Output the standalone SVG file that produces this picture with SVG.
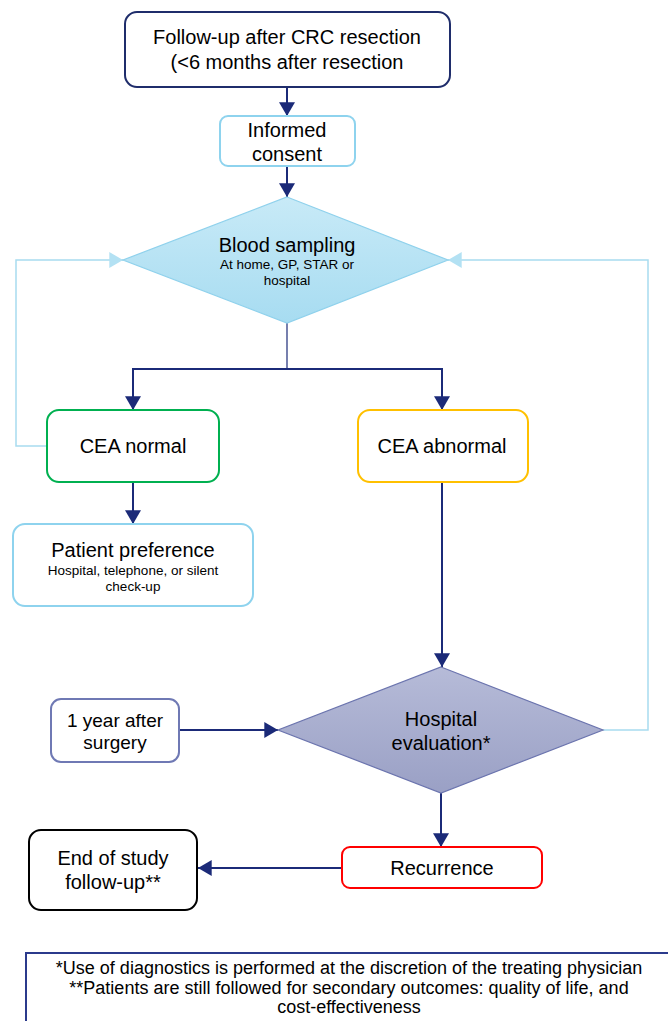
<svg xmlns="http://www.w3.org/2000/svg" width="668" height="1021" viewBox="0 0 668 1021">
<defs>
<style>
text{font-family:"Liberation Sans",Arial,sans-serif;fill:#000;text-anchor:middle}
.big{font-size:20px}
.sm{font-size:13.5px}
.foot{font-size:18px}
.box{fill:#fff;stroke-width:2}
.nav{fill:none;stroke:#1B2A78;stroke-width:2}
.loop{fill:none;stroke:#A8DCF0;stroke-width:1.5}
</style>
<linearGradient id="gBlue" x1="0" y1="0" x2="0" y2="1">
<stop offset="0" stop-color="#C8EAF7"/>
<stop offset="1" stop-color="#A7DCF1"/>
</linearGradient>
<linearGradient id="gPurple" x1="0" y1="0" x2="0" y2="1">
<stop offset="0" stop-color="#B6BBD8"/>
<stop offset="1" stop-color="#9AA0C5"/>
</linearGradient>
<marker id="ah" markerUnits="userSpaceOnUse" markerWidth="16" markerHeight="16" viewBox="0 0 12 14" refX="12" refY="7" orient="auto">
<path d="M0,0 L12,7 L0,14 Z" fill="#1B2A78"/>
</marker>
<marker id="ahl" markerUnits="userSpaceOnUse" markerWidth="16" markerHeight="16" viewBox="0 0 12 14" refX="12" refY="7" orient="auto">
<path d="M0,0 L12,7 L0,14 Z" fill="#B3E1F3"/>
</marker>
</defs>

<g id="connectors">
<line class="nav" x1="287" y1="87" x2="287" y2="116" marker-end="url(#ah)"/>
<line class="nav" x1="287" y1="166" x2="287" y2="197" marker-end="url(#ah)"/>
<line x1="287" y1="323" x2="287" y2="369" stroke="#1B2A78" stroke-width="1.2"/>
<polyline class="nav" points="133,410 133,369 442,369 442,410" stroke-linejoin="miter" marker-end="url(#ah)"/>
<line class="nav" x1="133" y1="369" x2="133" y2="410" marker-end="url(#ah)"/>
<polyline class="loop" points="47,446 16,446 16,260 123,260" marker-end="url(#ahl)"/>
<line class="nav" x1="133" y1="482" x2="133" y2="524" marker-end="url(#ah)"/>
<line class="nav" x1="442" y1="482" x2="442" y2="667" marker-end="url(#ah)"/>
<line class="nav" x1="179" y1="730" x2="278" y2="730" marker-end="url(#ah)"/>
<polyline class="loop" points="603,730 648,730 648,260 448,260" marker-end="url(#ahl)"/>
<line class="nav" x1="441" y1="793" x2="441" y2="847" marker-end="url(#ah)"/>
<line class="nav" x1="342" y1="868" x2="198" y2="868" marker-end="url(#ah)"/>
</g>

<g id="n-followup">
<rect class="box" x="125" y="12" width="325" height="75" rx="12" stroke="#1F2D6B"/>
<text class="big" x="287" y="44">Follow-up after CRC resection</text>
<text class="big" x="287" y="69">(&lt;6 months after resection</text>
</g>

<g id="n-consent">
<rect class="box" x="220" y="116" width="135" height="50" rx="8" stroke="#8ED3EE"/>
<text class="big" x="287" y="137">Informed</text>
<text class="big" x="287" y="161">consent</text>
</g>

<g id="n-blood">
<polygon points="287,197 448,260 287,323 123,260" fill="url(#gBlue)" stroke="#8FD1EC" stroke-width="1.2"/>
<text class="big" x="287" y="252">Blood sampling</text>
<text class="sm" x="287" y="269">At home, GP, STAR or</text>
<text class="sm" x="287" y="285">hospital</text>
</g>

<g id="n-normal">
<rect class="box" x="47" y="410" width="172" height="72" rx="12" stroke="#00B050"/>
<text class="big" x="133" y="453">CEA normal</text>
</g>

<g id="n-abnormal">
<rect class="box" x="358" y="410" width="170" height="72" rx="12" stroke="#FFC000"/>
<text class="big" x="442" y="453">CEA abnormal</text>
</g>

<g id="n-preference">
<rect class="box" x="13" y="524" width="240" height="82" rx="12" stroke="#8ED3EE"/>
<text class="big" x="133" y="557">Patient preference</text>
<text class="sm" x="133" y="575">Hospital, telephone, or silent</text>
<text class="sm" x="133" y="591">check-up</text>
</g>

<g id="n-year">
<rect class="box" x="51" y="699" width="128" height="63" rx="10" stroke="#6F79B4"/>
<text class="big" x="115" y="727" style="font-size:19px">1 year after</text>
<text class="big" x="115" y="749" style="font-size:19px">surgery</text>
</g>

<g id="n-hospital">
<polygon points="441,667 603,730 441,793 278,730" fill="url(#gPurple)" stroke="#6B74AE" stroke-width="1.2"/>
<text class="big" x="441" y="726">Hospital</text>
<text class="big" x="441" y="750">evaluation*</text>
</g>

<g id="n-recurrence">
<rect class="box" x="342" y="847" width="200" height="41" rx="8" stroke="#FF0000"/>
<text class="big" x="442" y="875">Recurrence</text>
</g>

<g id="n-end">
<rect class="box" x="29" y="830" width="168" height="80" rx="12" stroke="#000"/>
<text class="big" x="113" y="865">End of study</text>
<text class="big" x="113" y="889">follow-up**</text>
</g>

<g id="n-footnote">
<rect class="box" x="26" y="953" width="670" height="90" stroke="#2B3A8C"/>
<text class="foot" x="349" y="974">*Use of diagnostics is performed at the discretion of the treating physician</text>
<text class="foot" x="349" y="994">**Patients are still followed for secondary outcomes: quality of life, and</text>
<text class="foot" x="349" y="1013">cost-effectiveness</text>
</g>
</svg>
